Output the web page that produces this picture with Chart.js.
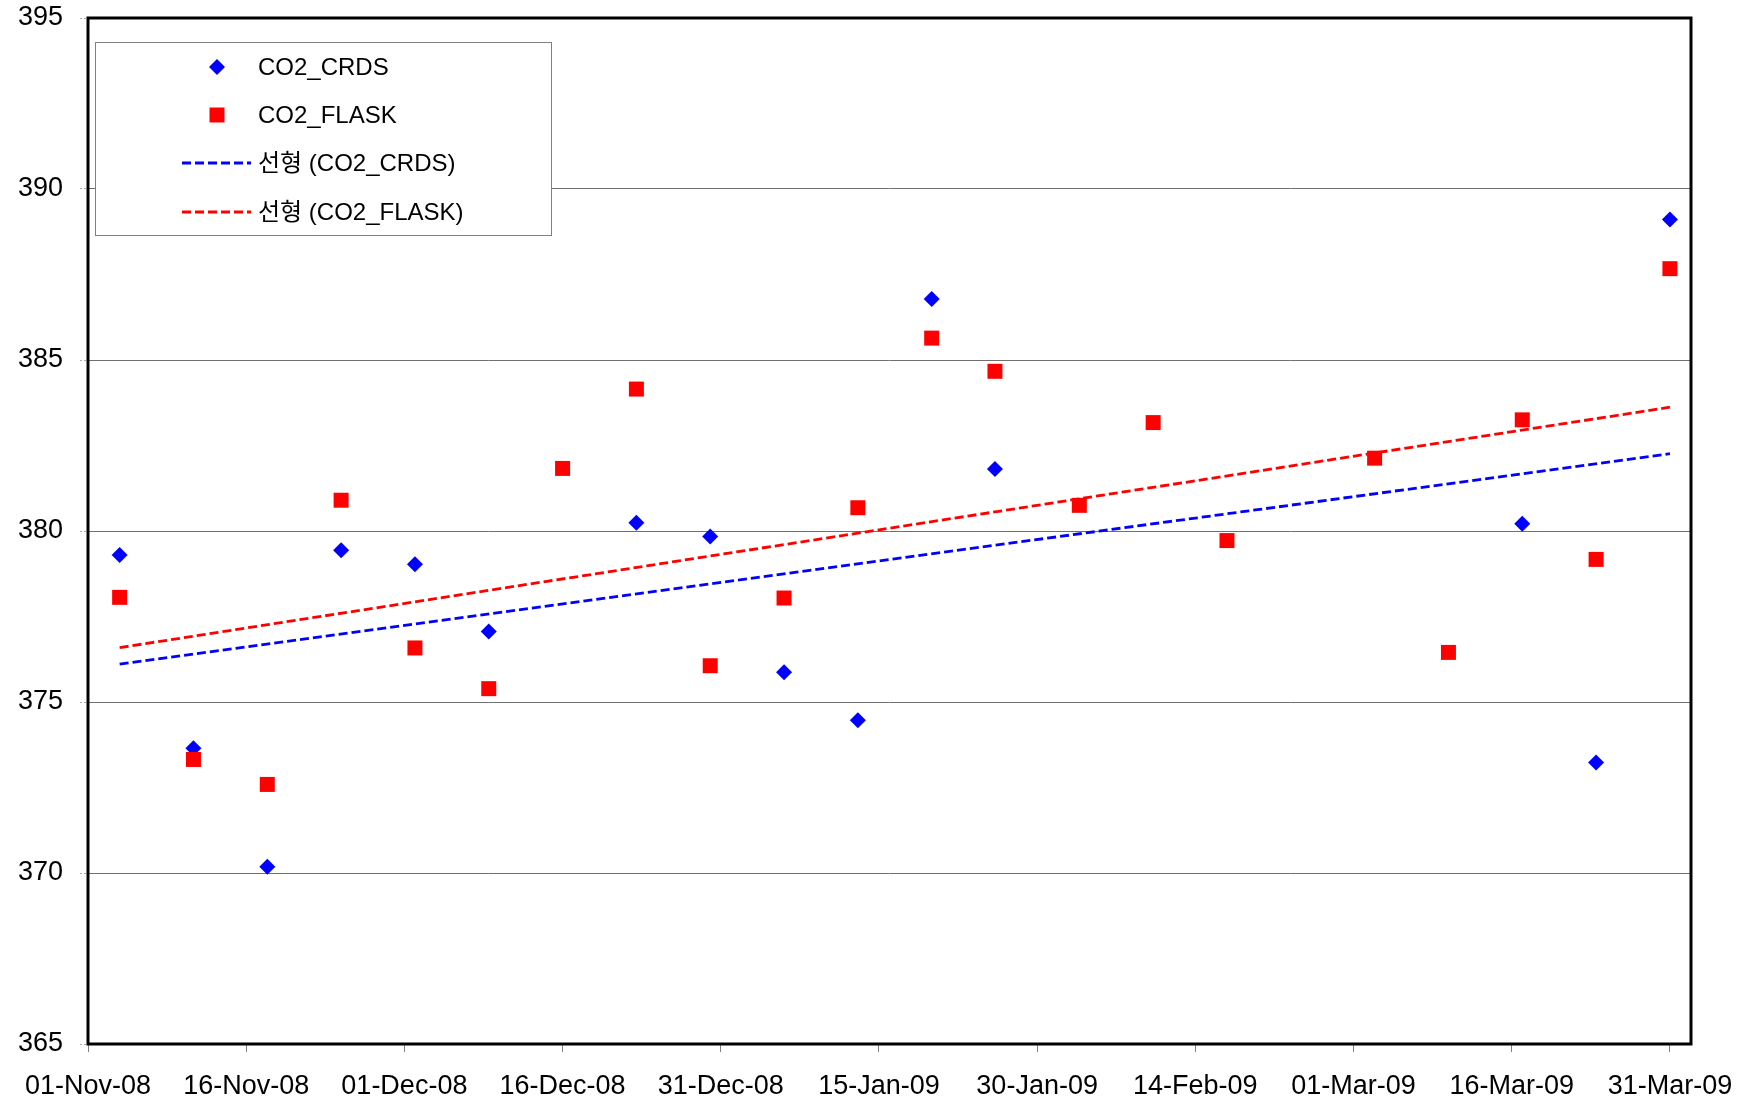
<!DOCTYPE html>
<html>
<head>
<meta charset="utf-8">
<script src="https://cdn.jsdelivr.net/npm/chart.js@4.4.0/dist/chart.umd.min.js"></script>
<style>
    html, body { margin: 0; padding: 0; background: #fff; }
</style>
</head>
<body>
<canvas id="co2" width="1751" height="1102"></canvas>
<script>
// Data

const startDate = '2008-11-01';

const crdsDates = ['2008-11-04', '2008-11-11', '2008-11-18', '2008-11-25', '2008-12-02', '2008-12-09',
    '2008-12-23', '2008-12-30', '2009-01-06', '2009-01-13', '2009-01-20', '2009-01-26',
    '2009-03-17', '2009-03-24', '2009-03-31'];
const crdsValues = [379.30, 373.65, 370.18, 379.44, 379.03, 377.06,
    380.24, 379.84, 375.87, 374.47, 386.78, 381.81,
    380.21, 373.23, 389.11];

const flaskDates = ['2008-11-04', '2008-11-11', '2008-11-18', '2008-11-25', '2008-12-02', '2008-12-09',
    '2008-12-16', '2008-12-23', '2008-12-30', '2009-01-06', '2009-01-13', '2009-01-20',
    '2009-01-26', '2009-02-03', '2009-02-10', '2009-02-17', '2009-03-03', '2009-03-10',
    '2009-03-17', '2009-03-24', '2009-03-31'];
const flaskValues = [378.06, 373.32, 372.59, 380.90, 376.58, 375.39,
    381.83, 384.15, 376.06, 378.04, 380.68, 385.64,
    384.67, 380.75, 383.17, 379.72, 382.13, 376.45,
    383.25, 379.17, 387.67];

// linear trend lines (end points)
const trendDates = ['2008-11-04', '2009-03-31'];
const crdsTrend = [376.11, 382.26];
const flaskTrend = [376.59, 383.62];

const tickLabels = ['01-Nov-08', '16-Nov-08', '01-Dec-08', '16-Dec-08', '31-Dec-08', '15-Jan-09',
    '30-Jan-09', '14-Feb-09', '01-Mar-09', '16-Mar-09', '31-Mar-09'];
const tickStep = 15;

const yMin = 365;
const yMax = 395;
const yStep = 5;

// days since start
function dayOf(s) {
    const a = s.split('-').map(Number);
    const b = startDate.split('-').map(Number);
    return (Date.UTC(a[0], a[1] - 1, a[2]) - Date.UTC(b[0], b[1] - 1, b[2])) / 86400000;
}

function toPoints(dates, values) {
    return dates.map((d, i) => ({ x: dayOf(d), y: values[i] }));
}

const FONT = "'Liberation Sans', Arial, 'Noto Sans CJK KR', sans-serif";

// Plot frame
const frame = {
    id: 'frame',
    beforeDatasetsDraw(chart) {
        const a = chart.chartArea;
        const ctx = chart.ctx;
        ctx.save();
        ctx.strokeStyle = '#000';
        ctx.lineWidth = 3;
        ctx.strokeRect(a.left, a.top, a.right - a.left, a.bottom - a.top);
        ctx.restore();
    }
};

// Legend inside the plot, top left
const legendBox = {
    id: 'legendBox',
    afterDraw(chart) {
        const ctx = chart.ctx;
        ctx.save();
        ctx.fillStyle = '#fff';
        ctx.fillRect(95, 42, 456, 193);
        ctx.strokeStyle = '#808080';
        ctx.lineWidth = 1;
        ctx.strokeRect(95.5, 42.5, 456, 193);

        const rows = [67, 115, 163, 212];
        ctx.font = '24px ' + FONT;
        ctx.textBaseline = 'middle';
        ctx.textAlign = 'left';
        chart.data.datasets.forEach((ds, i) => {
            const y = rows[i];
            if (ds.showLine) {
                ctx.strokeStyle = ds.borderColor;
                ctx.lineWidth = ds.borderWidth;
                ctx.setLineDash(ds.borderDash);
                ctx.beginPath();
                ctx.moveTo(182, y);
                ctx.lineTo(251, y);
                ctx.stroke();
                ctx.setLineDash([]);
            } else {
                ctx.fillStyle = ds.backgroundColor;
                ctx.beginPath();
                if (ds.pointStyle === 'rectRot') {
                    const r = ds.pointRadius;
                    ctx.moveTo(217, y - r);
                    ctx.lineTo(217 + r, y);
                    ctx.lineTo(217, y + r);
                    ctx.lineTo(217 - r, y);
                    ctx.closePath();
                } else {
                    const s = ds.pointRadius * Math.SQRT1_2;
                    ctx.rect(217 - s, y - s, 2 * s, 2 * s);
                }
                ctx.fill();
            }
            ctx.fillStyle = '#000';
            ctx.fillText(ds.label, 258, y + 1);
        });
        ctx.restore();
    }
};

const ctx = document.getElementById('co2').getContext('2d');
const co2Chart = new Chart(ctx, {
    type: 'scatter',
    data: {
        datasets: [{
            label: 'CO2_CRDS',
            data: toPoints(crdsDates, crdsValues),
            pointStyle: 'rectRot',
            pointRadius: 8,
            backgroundColor: '#0000ff',
            borderColor: '#0000ff',
            borderWidth: 0,
            order: 3
        },
        {
            label: 'CO2_FLASK',
            data: toPoints(flaskDates, flaskValues),
            pointStyle: 'rect',
            pointRadius: 10.6,
            backgroundColor: '#ff0000',
            borderColor: '#ff0000',
            borderWidth: 0,
            order: 2
        },
        {
            label: '선형 (CO2_CRDS)',
            data: toPoints(trendDates, crdsTrend),
            showLine: true,
            pointRadius: 0,
            borderColor: '#0000ff',
            borderWidth: 2.8,
            borderDash: [9, 4],
            order: 1
        },
        {
            label: '선형 (CO2_FLASK)',
            data: toPoints(trendDates, flaskTrend),
            showLine: true,
            pointRadius: 0,
            borderColor: '#ff0000',
            borderWidth: 2.8,
            borderDash: [9, 4],
            order: 0
        }]
    },
    options: {
        responsive: false,
        animation: false,
        events: [],
        layout: {
            padding: { top: 18, right: 60, left: 0, bottom: 0 }
        },
        scales: {
            x: {
                type: 'linear',
                min: 0,
                max: 152,
                afterBuildTicks: (scale) => {
                    scale.ticks = tickLabels.map((_, i) => ({ value: i * tickStep }));
                },
                afterFit: (scale) => { scale.height = 58; },
                ticks: {
                    autoSkip: false,
                    maxRotation: 0,
                    padding: 18,
                    color: '#000',
                    font: { family: FONT, size: 27 },
                    callback: (v) => tickLabels[Math.round(v / tickStep)]
                },
                grid: {
                    drawOnChartArea: false,
                    drawTicks: true,
                    tickLength: 8,
                    tickColor: '#808080',
                    tickWidth: 1
                },
                border: { display: false }
            },
            y: {
                min: yMin,
                max: yMax,
                afterFit: (scale) => {
                    scale.width = 88;
                    scale.paddingTop = 0;
                    scale.paddingBottom = 0;
                },
                ticks: {
                    stepSize: yStep,
                    padding: 17,
                    color: '#000',
                    font: { family: FONT, size: 27 }
                },
                grid: {
                    color: '#707070',
                    lineWidth: 1,
                    tickLength: 8,
                    tickColor: '#aaaaaa',
                    tickBorderDash: [2, 2]
                },
                border: { display: false }
            }
        },
        plugins: {
            legend: { display: false },
            tooltip: { enabled: false }
        }
    },
    plugins: [frame, legendBox]
});
</script>
</body>
</html>
